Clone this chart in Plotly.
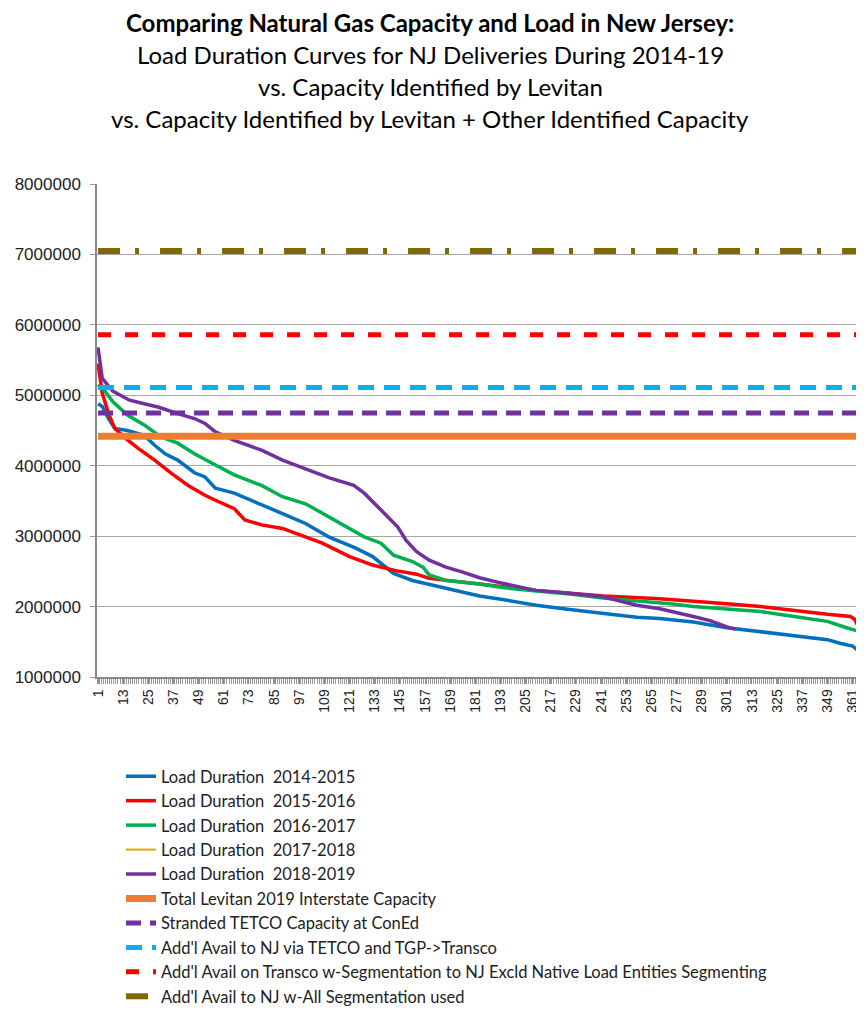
import plotly.graph_objects as go

# ---- data ----
days_1415 = [1, 3, 6, 9, 15, 23, 28, 33, 39, 47, 52, 57, 66, 79, 89, 100, 111, 124, 132, 142,
             151, 167, 183, 194, 210, 226, 242, 258, 269, 285, 301, 317, 333, 349, 355, 361, 363, 365]
load_1415 = [4880000, 4840000, 4670000, 4530000, 4500000, 4430000, 4290000, 4170000, 4080000, 3900000,
             3840000, 3680000, 3610000, 3440000, 3320000, 3180000, 2990000, 2830000, 2710000, 2470000,
             2370000, 2260000, 2150000, 2100000, 2020000, 1960000, 1900000, 1850000, 1830000, 1780000,
             1700000, 1640000, 1590000, 1530000, 1480000, 1440000, 1390000, 1370000]

days_1516 = [1, 3, 6, 9, 14, 20, 28, 36, 44, 52, 57, 66, 71, 79, 89, 98, 108, 121, 132, 143,
             153, 159, 175, 183, 210, 242, 269, 285, 301, 317, 333, 349, 360, 362, 365]
load_1516 = [5450000, 5030000, 4740000, 4530000, 4390000, 4250000, 4080000, 3890000, 3720000, 3580000,
             3510000, 3390000, 3230000, 3160000, 3110000, 3010000, 2900000, 2710000, 2590000, 2510000,
             2460000, 2400000, 2340000, 2320000, 2230000, 2150000, 2110000, 2080000, 2040000, 2000000,
             1940000, 1890000, 1860000, 1820000, 1640000]

days_1617 = [1, 4, 8, 15, 23, 31, 39, 47, 57, 66, 79, 89, 100, 111, 128, 136, 142, 151, 156, 159,
             167, 183, 194, 210, 226, 242, 258, 274, 285, 301, 317, 333, 349, 357, 365]
load_1617 = [5150000, 5070000, 4910000, 4720000, 4580000, 4410000, 4320000, 4170000, 4010000, 3870000,
             3720000, 3560000, 3460000, 3280000, 2990000, 2900000, 2730000, 2640000, 2560000, 2450000,
             2370000, 2320000, 2270000, 2220000, 2180000, 2120000, 2080000, 2040000, 2000000, 1960000,
             1930000, 1860000, 1790000, 1710000, 1640000]

days_1718 = []
load_1718 = []

days_1819 = [1, 3, 8, 16, 23, 30, 39, 47, 52, 57, 66, 79, 89, 100, 111, 123, 128, 136, 144, 148,
             153, 159, 167, 175, 183, 194, 210, 226, 242, 258, 269, 285, 293, 301, 305]
load_1819 = [5680000, 5240000, 5060000, 4930000, 4880000, 4830000, 4740000, 4670000, 4600000, 4480000,
             4360000, 4220000, 4080000, 3960000, 3830000, 3720000, 3610000, 3370000, 3130000, 2940000,
             2780000, 2660000, 2560000, 2490000, 2410000, 2330000, 2230000, 2190000, 2140000, 2020000,
             1970000, 1860000, 1800000, 1710000, 1680000]

day_span = [1, 365]
cap_levitan = 4420000
cap_stranded_tetco = 4750000
cap_tetco_tgp = 5110000
cap_transco_seg = 5860000
cap_all_seg = 7050000

y_ticks = [1000000, 2000000, 3000000, 4000000, 5000000, 6000000, 7000000, 8000000]

TXT = "Lato, 'Open Sans', sans-serif"

fig = go.Figure()

loads = [
    ("Load Duration  2014-2015", days_1415, load_1415, "#0070C0", 3.5),
    ("Load Duration  2015-2016", days_1516, load_1516, "#FF0000", 3.5),
    ("Load Duration  2016-2017", days_1617, load_1617, "#00B050", 3.5),
    ("Load Duration  2017-2018", days_1718, load_1718, "#E0A800", 2),
    ("Load Duration  2018-2019", days_1819, load_1819, "#7030A0", 3.5),
]
for name, d, v, c, w in loads:
    if not d:
        d, v = [None], [None]
    fig.add_trace(go.Scatter(x=d, y=v, mode="lines", name=name, legendgroup=name,
                             line=dict(color=c, width=w)))

caps = [
    ("Total Levitan 2019 Interstate Capacity", cap_levitan, "#ED7D31", 7, "solid"),
    ("Stranded TETCO Capacity at ConEd", cap_stranded_tetco, "#7030A0", 5, "15px,9px"),
    ("Add'l Avail to NJ via TETCO and TGP->Transco", cap_tetco_tgp, "#00B0F0", 5, "16px,10px"),
    ("Add'l Avail on Transco w-Segmentation to NJ Excld Native Load Entities Segmenting",
     cap_transco_seg, "#FF0000", 5, "13px,14px"),
    ("Add'l Avail to NJ w-All Segmentation used", cap_all_seg, "#7F6A00", 6, "22px,15px,4px,21px"),
]
for name, val, c, w, dash in caps:
    fig.add_trace(go.Scatter(x=day_span, y=[val, val], mode="lines", name=name, legendgroup=name,
                             line=dict(color=c, width=w, dash=dash)))

# the page body has an 8px margin, so the figure is drawn 8px smaller and
# every reference pixel position is measured in page coordinates
OFF = 8
PX_L, PX_R, PX_T, PX_B = 97, 862, 184, 677
W, H = 864 - OFF, 1017 - OFF


def px_x(x):
    return (x - PX_L) / (PX_R - PX_L)


def px_y(y):
    return (PX_B - y) / (PX_B - PX_T)


title_lines = [
    ("<b>Comparing Natural Gas Capacity and Load in New Jersey:</b>", 23),
    ("Load Duration Curves for NJ Deliveries During 2014-19", 54),
    ("vs. Capacity Identified by Levitan", 86),
    ("vs. Capacity Identified by Levitan + Other Identified Capacity", 118),
]
for txt, ypx in title_lines:
    fig.add_annotation(text=txt, xref="paper", yref="paper", x=px_x(430), y=px_y(ypx),
                       showarrow=False, xanchor="center", yanchor="middle",
                       font=dict(family=TXT, size=24, color="#000000"))

fig.update_layout(
    width=W, height=H,
    margin=dict(l=PX_L - OFF, r=W - (PX_R - OFF), t=PX_T - OFF, b=H - (PX_B - OFF)),
    paper_bgcolor="white", plot_bgcolor="white",
    showlegend=True,
    legend=dict(x=px_x(121), xref="paper", y=px_y(759), yref="paper",
                xanchor="left", yanchor="top", tracegroupgap=0,
                font=dict(family=TXT, size=16.5, color="#222222"),
                bgcolor="rgba(0,0,0,0)"),
    xaxis=dict(range=[0.5, 365.5], tickmode="linear", tick0=1, dtick=12, tickangle=-90,
               ticks="outside", ticklen=5, tickcolor="#888888", showgrid=False,
               showline=True, linecolor="#888888", linewidth=1.5, zeroline=False,
               tickfont=dict(family="Liberation Sans, Arial, sans-serif", size=14, color="#222222"),
               minor=dict(dtick=1, tick0=0.5, ticks="outside", ticklen=5, tickcolor="#999999")),
    yaxis=dict(range=[1000000, 8000000], tickvals=y_ticks, tickformat="d",
               ticks="outside", ticklen=5, tickcolor="#999999", showgrid=True,
               gridcolor="#A6A6A6", gridwidth=1.3, showline=True, linecolor="#888888",
               linewidth=1.5, zeroline=False, ticklabelstandoff=6,
               tickfont=dict(family="Liberation Sans, Arial, sans-serif", size=17, color="#222222")),
)

fig.write_html("out.html")
